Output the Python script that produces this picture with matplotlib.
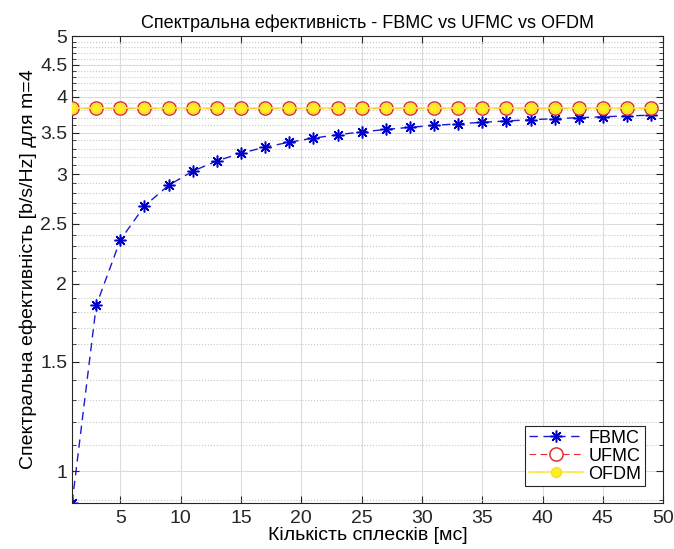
import numpy as np
import matplotlib.pyplot as plt
from matplotlib.ticker import FixedLocator, NullFormatter

plt.rcParams['font.family'] = ['Liberation Sans', 'DejaVu Sans']

# number of bursts
bursts = [1, 3, 5, 7, 9, 11, 13, 15, 17, 19, 21, 23, 25,
          27, 29, 31, 33, 35, 37, 39, 41, 43, 45, 47, 49]

# spectral efficiency, b/s/Hz (m=4)
fbmc = [0.889, 1.846, 2.353, 2.667, 2.880, 3.034, 3.152, 3.243, 3.317,
        3.378, 3.429, 3.472, 3.509, 3.541, 3.569, 3.594, 3.616, 3.636,
        3.654, 3.671, 3.685, 3.699, 3.711, 3.723, 3.733]
ufmc = [3.84] * len(bursts)
ofdm = [3.84] * len(bursts)

y_ticks = [1, 1.5, 2, 2.5, 3, 3.5, 4, 4.5, 5]
x_ticks = [5, 10, 15, 20, 25, 30, 35, 40, 45, 50]

asterisk = (8, 2, 0)

fig = plt.figure(figsize=(6.74, 5.49), dpi=100)
ax = fig.add_axes([0.107, 0.084, 0.877, 0.850])

ax.plot(bursts, fbmc, linestyle=(0, (6, 4)), color='#1a1ad0', linewidth=1,
        marker=asterisk, markersize=8.5, markeredgewidth=1.1,
        markeredgecolor='#0000cc', label='FBMC', zorder=2)
ax.plot(bursts, ufmc, linestyle=(0, (6, 4)), color='#e03030', linewidth=0.8,
        marker='o', markersize=9.5, markerfacecolor='white',
        markeredgecolor='#dd3333', markeredgewidth=1.1, label='UFMC', zorder=3)
ax.plot(bursts, ofdm, '-', color='#ffe83a', linewidth=1.2, marker='o',
        markersize=7.2, markerfacecolor='#ffee22', markeredgecolor='#f5e020',
        label='OFDM', zorder=4)

ax.set_yscale('log')
ax.set_xlim(1, 50)
ax.set_ylim(fbmc[0], 5)
ax.xaxis.set_major_locator(FixedLocator(x_ticks))
ax.yaxis.set_major_locator(FixedLocator(y_ticks))
ax.yaxis.set_minor_locator(FixedLocator(
    [v / 10 for v in range(9, 50) if v % 5 != 0]))
ax.yaxis.set_major_formatter(plt.FuncFormatter(lambda v, p: f'{v:g}'))
ax.yaxis.set_minor_formatter(NullFormatter())

ax.tick_params(which='both', direction='in', top=True, right=True,
               labelsize=14, colors='#262626')
ax.tick_params(which='major', length=5)
ax.tick_params(which='minor', length=3)
ax.tick_params(axis='x', pad=5)

ax.grid(True, which='major', color='#dcdcdc', linewidth=0.8)
ax.grid(True, which='minor', axis='y', color='#c8c8c8', linestyle=':',
        linewidth=0.8)
for side in ax.spines.values():
    side.set_color('#262626')
    side.set_linewidth(0.8)

ax.set_title('Спектральна ефективність - FBMC vs UFMC vs OFDM',
             fontsize=13, pad=6)
ax.set_xlabel('Кількість сплесків [мс]', fontsize=14, labelpad=0)
ax.set_ylabel('Спектральна ефективність [b/s/Hz] для m=4', fontsize=14,
              labelpad=2)

leg = ax.legend(loc='lower right', bbox_to_anchor=(0.975, 0.028),
                fontsize=13, fancybox=False, framealpha=1,
                edgecolor='#262626', borderpad=0.2, labelspacing=0.05,
                handlelength=3.0, handletextpad=0.3, borderaxespad=0.2)
leg.get_frame().set_linewidth(0.8)

fig.savefig('out.png', dpi=100)
